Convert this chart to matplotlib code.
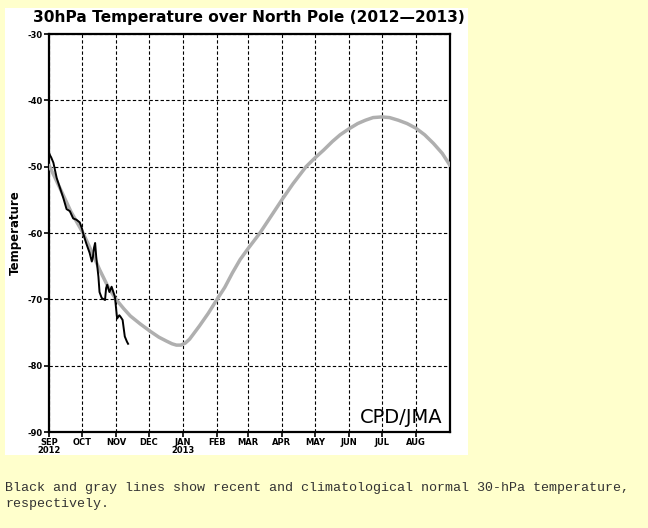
import numpy as np
from matplotlib import pyplot as plt
from matplotlib.patches import Rectangle

# days counted from 1 Sep 2012
month_days = [0, 30, 61, 91, 122, 153, 181, 212, 242, 273, 303, 334]
month_labels = ['SEP\n2012', 'OCT', 'NOV', 'DEC', 'JAN\n2013', 'FEB', 'MAR',
                'APR', 'MAY', 'JUN', 'JUL', 'AUG']
temp_ticks = [-90, -80, -70, -60, -50, -40, -30]

# recent observed temperature (black)
recent_days = [0, 1, 2, 4, 7, 10, 13, 16, 19, 22, 25, 28, 30, 31, 34, 37, 39,
               40, 41, 42, 43, 45, 46, 48, 51, 52, 53, 55, 57, 58, 60, 62, 64,
               65, 67, 69, 71, 72]
recent_temp = [-47.9, -48.3, -48.6, -49.4, -51.7, -53.2, -54.7, -56.4, -56.7,
               -57.8, -58.0, -58.4, -59.3, -60.0, -61.6, -63.0, -64.3, -63.6,
               -62.2, -61.5, -63.6, -66.6, -68.9, -69.8, -70.1, -68.3, -67.8,
               -68.9, -68.1, -68.6, -69.6, -72.9, -72.4, -72.6, -73.1, -75.6,
               -76.4, -76.7]

# climatological normal (gray)
clim_days = [0, 5, 13, 20, 31, 38, 46, 54, 61, 68, 74, 83, 92, 100, 107, 112,
             116, 120, 124, 128, 137, 145, 153, 160, 167, 174, 181, 192, 202,
             212, 222, 234, 242, 250, 258, 265, 273, 281, 288, 295, 303, 310,
             318, 326, 334, 342, 350, 358, 365]
clim_temp = [-49.8, -51.5, -54.3, -56.8, -60.0, -62.5, -65.5, -68.2, -70.0,
             -71.4, -72.5, -73.7, -74.8, -75.7, -76.3, -76.7, -76.9, -76.9,
             -76.6, -76.0, -74.0, -72.1, -70.0, -68.2, -66.0, -64.0, -62.4,
             -60.0, -57.5, -55.0, -52.6, -50.0, -48.7, -47.5, -46.2, -45.2,
             -44.3, -43.5, -43.0, -42.6, -42.5, -42.6, -43.0, -43.5, -44.2,
             -45.2, -46.5, -48.0, -49.8]

fig = plt.figure(figsize=(6.48, 5.28), dpi=100)
fig.patch.set_facecolor('#ffffcc')
fig.patches.append(Rectangle((0.0077, 0.1383), 0.7145, 0.8466,
                             transform=fig.transFigure, facecolor='white',
                             edgecolor='none', zorder=-10))

ax = fig.add_axes([0.0756, 0.1818, 0.6188, 0.7538])
ax.set_zorder(1)
ax.set_facecolor('white')
ax.plot(clim_days, clim_temp, color='#afafaf', lw=2.5, solid_capstyle='round', zorder=3)
ax.plot(recent_days, recent_temp, color='black', lw=1.4, zorder=4)

ax.set_xlim(0, 365)
ax.set_ylim(-90, -30)
ax.set_xticks(month_days)
ax.set_xticklabels(month_labels, fontsize=6, fontweight='bold', linespacing=0.85)
ax.set_yticks(temp_ticks)
ax.set_yticklabels([str(t) for t in temp_ticks], fontsize=6, fontweight='bold')
ax.tick_params(direction='out', length=3.5, width=1.2, pad=1)
ax.grid(True, color='black', linestyle=(0, (3, 2)), linewidth=0.8)
for s in ax.spines.values():
    s.set_linewidth(1.6)

ax.set_ylabel('Temperature', fontsize=8.5, fontweight='bold', labelpad=4)
ax.text(0.982, 0.012, 'CPD/JMA', transform=ax.transAxes, ha='right', va='bottom',
        fontsize=14, color='black', zorder=5)

fig.text(0.384, 0.967, '30hPa Temperature over North Pole (2012\u20142013)',
         ha='center', va='center', fontsize=11.1, fontweight='bold')

fig.text(0.008, 0.061, 'Black and gray lines show recent and climatological '
         'normal 30-hPa temperature,\nrespectively.', ha='left', va='center',
         fontsize=9.6, family='Liberation Mono', color='#333333', linespacing=1.45)

plt.savefig('out.png', dpi=100, facecolor=fig.get_facecolor())
